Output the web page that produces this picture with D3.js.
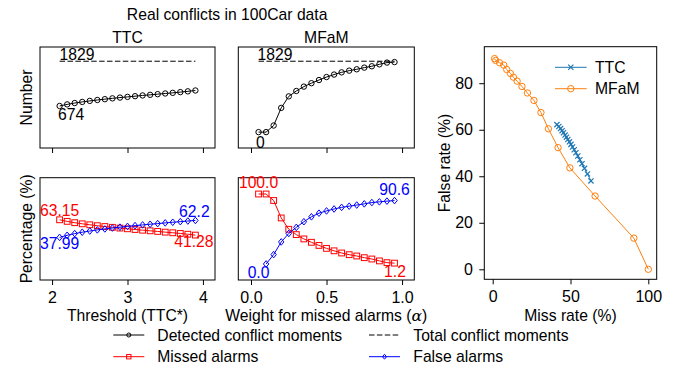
<!DOCTYPE html>
<html><head><meta charset="utf-8">
<script src="https://cdn.jsdelivr.net/npm/d3@7"></script>
<style>
body{margin:0;background:#fff}
svg{display:block}
text{font-family:"Liberation Sans",Arial,Helvetica,sans-serif}
</style></head>
<body><svg id="c" width="675" height="369"></svg>
<script>
// ---------------- data ----------------
const thresholds = [2.1,2.2,2.3,2.4,2.5,2.6,2.7,2.8,2.9,3.0,3.1,3.2,3.3,3.4,3.5,3.6,3.7,3.8,3.9];
const alphas = [0.05,0.10,0.15,0.20,0.25,0.30,0.35,0.40,0.45,0.50,0.55,0.60,0.65,0.70,0.75,0.80,0.85,0.90,0.95];
const totalConflicts = 1829;

const ttcDetected = [674,715,750,779,805,829,850,871,891,909,927,946,962,979,997,1013,1032,1052,1074];
const ttcMissed   = [63.15,60.9,59.0,57.4,56.0,54.7,53.5,52.4,51.3,50.3,49.3,48.3,47.4,46.5,45.5,44.6,43.6,42.5,41.28];
const ttcFalse    = [37.99,41.0,43.4,45.4,47.1,48.7,50.1,51.4,52.6,53.7,54.8,55.8,56.8,57.7,58.7,59.6,60.5,61.4,62.2];

const mfamDetected = [0,0,170,625,922,1061,1174,1262,1344,1421,1485,1542,1586,1621,1664,1699,1749,1794,1807];
const mfamMissed   = [100.0,100.0,90.7,65.8,49.6,42.0,35.8,31.0,26.5,22.3,18.8,15.7,13.3,11.4,9.0,7.1,4.4,1.9,1.2];
const mfamFalse    = [null,0.0,13.4,31.5,43.6,52.3,60.4,67.4,72.6,75.8,78.6,80.9,82.6,84.2,85.9,87.8,88.8,89.8,90.6];

const ttcTicks = [2,3,4];
const alphaTicks = [0,0.5,1];
const missTicks = [0,50,100];
const falseTicks = [0,20,40,60,80];
const alphaTickLabels = ["0.0","0.5","1.0"];

// ---------------- layout ----------------
const FS = 15.7, TFS = 16;
const svg = d3.select("#c");
const P = {
  ttcN:  {x0:40,    x1:215,   y0:47,   y1:148},
  mfN:   {x0:238.3, x1:414.3, y0:47,   y1:148},
  ttcP:  {x0:40,    x1:215,   y0:177.7,y1:280},
  mfP:   {x0:238.3, x1:414.3, y0:177.7,y1:280},
  rate:  {x0:484.3, x1:656.7, y0:46.7, y1:279.3}
};
const xT = d3.scaleLinear().domain([1.84,4.16]).range([P.ttcN.x0,P.ttcN.x1]);
const xA = d3.scaleLinear().domain([-0.084,1.081]).range([P.mfN.x0,P.mfN.x1]);
const yN = d3.scaleLinear().domain([-410,2196]).range([P.ttcN.y1,P.ttcN.y0]);
const yP = d3.scaleLinear().domain([-22.9,123.3]).range([P.ttcP.y1,P.ttcP.y0]);
const xR = d3.scaleLinear().domain([-5.4,105.4]).range([P.rate.x0,P.rate.x1]);
const yR = d3.scaleLinear().domain([-4.3,95.7]).range([P.rate.y1,P.rate.y0]);

function frame(p){
  svg.append("rect").attr("x",p.x0).attr("y",p.y0).attr("width",p.x1-p.x0).attr("height",p.y1-p.y0)
    .attr("fill","none").attr("stroke","#000").attr("stroke-width",1);
}
function styleAxis(g){
  g.select(".domain").remove();
  g.attr("font-size",TFS).attr("font-family",null);
  g.selectAll("line").attr("stroke","#000");
  g.selectAll("text").attr("fill","#000");
}
function bottomAxis(p, scale, ticks, labels){
  const ax = d3.axisBottom(scale).tickValues(ticks).tickSize(5).tickSizeOuter(0).tickPadding(6.8)
    .tickFormat((d,i)=> labels ? labels[i] : "");
  const g = svg.append("g").attr("transform",`translate(0,${p.y1})`).call(ax);
  styleAxis(g);
  return g;
}

Object.entries(P).forEach(([k,p])=>{
  svg.append("clipPath").attr("id","clip-"+k).append("rect")
    .attr("x",p.x0).attr("y",p.y0).attr("width",p.x1-p.x0).attr("height",p.y1-p.y0);
});

function series(key, xs, ys, sc, color, marker, dashed){
  const g = svg.append("g").attr("clip-path",`url(#clip-${key})`);
  const pts = xs.map((x,i)=>({x, y: ys[i]}));
  const line = d3.line().defined(d=>d.y!==null).x(d=>sc.x(d.x)).y(d=>sc.y(d.y));
  g.append("path").attr("d",line(pts)).attr("fill","none").attr("stroke",color).attr("stroke-width",1)
    .attr("stroke-dasharray",dashed?"5.5,2.4":null);
  if(marker){
    pts.filter(d=>d.y!==null).forEach(d=>drawMarker(g, marker, sc.x(d.x), sc.y(d.y), color, 1));
  }
  return g;
}
function drawMarker(g, m, cx, cy, color, s){
  if(m==="o"){
    g.append("circle").attr("cx",cx).attr("cy",cy).attr("r",2.7*s).attr("fill","none").attr("stroke",color).attr("stroke-width",1);
  } else if(m==="s"){
    const h=2.9*s;
    g.append("rect").attr("x",cx-h).attr("y",cy-h).attr("width",2*h).attr("height",2*h).attr("fill","none").attr("stroke",color).attr("stroke-width",1);
  } else if(m==="D"){
    const a=2.7*s,b=3.3*s;
    g.append("path").attr("d",`M${cx},${cy-b}L${cx+a},${cy}L${cx},${cy+b}L${cx-a},${cy}Z`).attr("fill","none").attr("stroke",color).attr("stroke-width",1);
  } else if(m==="x"){
    const h=2.6*s;
    g.append("path").attr("d",`M${cx-h},${cy-h}L${cx+h},${cy+h}M${cx-h},${cy+h}L${cx+h},${cy-h}`).attr("stroke",color).attr("stroke-width",1.2);
  } else if(m==="O"){
    g.append("circle").attr("cx",cx).attr("cy",cy).attr("r",3.2*s).attr("fill","none").attr("stroke",color).attr("stroke-width",1);
  }
}
function label(txt, x, y, anchor, color){
  return svg.append("text").attr("x",x).attr("y",y).attr("text-anchor",anchor)
    .attr("font-size",FS).attr("fill",color||"#000").text(txt);
}
function vlabel(txt, x, yc){
  svg.append("text").attr("transform",`translate(${x},${yc}) rotate(-90)`).attr("text-anchor","middle")
    .attr("font-size",FS).attr("fill","#000").text(txt);
}

// ---------- titles ----------
label("Real conflicts in 100Car data", (P.ttcN.x0+P.mfN.x1)/2, 19.5, "middle");
label("TTC", (P.ttcN.x0+P.ttcN.x1)/2, 42.7, "middle");
label("MFaM", (P.mfN.x0+P.mfN.x1)/2, 42.7, "middle");

// ---------- panel 1: TTC number ----------
frame(P.ttcN);
bottomAxis(P.ttcN, xT, ttcTicks, null);
series("ttcN", [thresholds[0], thresholds[thresholds.length-1]], [totalConflicts,totalConflicts], {x:xT,y:yN}, "#000", null, true);
series("ttcN", thresholds, ttcDetected, {x:xT,y:yN}, "#000", "o");
label(String(totalConflicts), xT(thresholds[0]), yN(totalConflicts)-1.7, "start");
label(String(ttcDetected[0]), xT(thresholds[0])-1.5, yN(ttcDetected[0])+13.8, "start");

// ---------- panel 2: MFaM number ----------
frame(P.mfN);
bottomAxis(P.mfN, xA, alphaTicks, null);
series("mfN", [alphas[0], alphas[alphas.length-1]], [totalConflicts,totalConflicts], {x:xA,y:yN}, "#000", null, true);
series("mfN", alphas, mfamDetected, {x:xA,y:yN}, "#000", "o");
label(String(totalConflicts), xA(alphas[0])-1, yN(totalConflicts)-1.7, "start");
label(String(mfamDetected[0]), xA(alphas[0])-2.5, yN(mfamDetected[0])+16, "start");

// ---------- panel 3: TTC percentages ----------
frame(P.ttcP);
bottomAxis(P.ttcP, xT, ttcTicks, ttcTicks.map(String));
series("ttcP", thresholds, ttcMissed, {x:xT,y:yP}, "#ff0000", "s");
series("ttcP", thresholds, ttcFalse, {x:xT,y:yP}, "#0000ff", "D");
const nT = thresholds.length-1;
label("63.15", xT(thresholds[0]), yP(ttcMissed[0])-3.4, "middle", "#ff0000");
label("37.99", xT(thresholds[0]), yP(ttcFalse[0])+11.8, "middle", "#0000ff");
label("62.2", xT(thresholds[nT])-1, yP(ttcFalse[nT])-3.4, "middle", "#0000ff");
label("41.28", xT(thresholds[nT])-1.5, yP(ttcMissed[nT])+12.4, "middle", "#ff0000");

// ---------- panel 4: MFaM percentages ----------
frame(P.mfP);
bottomAxis(P.mfP, xA, alphaTicks, alphaTickLabels);
series("mfP", alphas, mfamMissed, {x:xA,y:yP}, "#ff0000", "s");
series("mfP", alphas, mfamFalse, {x:xA,y:yP}, "#0000ff", "D");
const nA = alphas.length-1;
label("100.0", xA(alphas[0]), yP(mfamMissed[0])-5.7, "middle", "#ff0000");
label("0.0", xA(alphas[0]), yP(0)+14.3, "middle", "#0000ff");
label("90.6", xA(alphas[nA]), yP(mfamFalse[nA])-5.6, "middle", "#0000ff");
label("1.2", xA(alphas[nA])+0.5, yP(mfamMissed[nA])+14, "middle", "#ff0000");

// axis labels
vlabel("Number", 31.5, (P.ttcN.y0+P.ttcN.y1)/2);
vlabel("Percentage (%)", 31.5, (P.ttcP.y0+P.ttcP.y1)/2);
label("Threshold (TTC*)", (P.ttcP.x0+P.ttcP.x1)/2, 321, "middle");
{
  const wl = label("", (P.mfP.x0+P.mfP.x1)/2, 321, "middle");
  wl.append("tspan").text("Weight for missed alarms (");
  wl.append("tspan").attr("font-family","'DejaVu Serif',serif").attr("font-style","italic").text("α");
  wl.append("tspan").text(")");
}

// ---------- panel 5: false vs miss ----------
frame(P.rate);
bottomAxis(P.rate, xR, missTicks, missTicks.map(String));
{
  const ax = d3.axisLeft(yR).tickValues(falseTicks).tickSize(5).tickSizeOuter(0).tickPadding(6.3).tickFormat(d=>String(d));
  const g = svg.append("g").attr("transform",`translate(${P.rate.x0},0)`).call(ax);
  styleAxis(g);
}
{
  const g = svg.append("g").attr("clip-path","url(#clip-rate)");
  const line = d3.line().defined(d=>d[1]!==null).x(d=>xR(d[0])).y(d=>yR(d[1]));
  const mfPts = mfamMissed.map((m,i)=>[m, mfamFalse[i]]);
  g.append("path").attr("d",line(mfPts)).attr("fill","none").attr("stroke","#ff7f0e").attr("stroke-width",1);
  mfPts.filter(p=>p[1]!==null).forEach(p=>drawMarker(g,"O",xR(p[0]),yR(p[1]),"#ff7f0e",1));
  const ttcPts = ttcMissed.map((m,i)=>[m, ttcFalse[i]]);
  g.append("path").attr("d",line(ttcPts)).attr("fill","none").attr("stroke","#1f77b4").attr("stroke-width",1);
  ttcPts.forEach(p=>drawMarker(g,"x",xR(p[0]),yR(p[1]),"#1f77b4",1));
}
label("Miss rate (%)", (P.rate.x0+P.rate.x1)/2, 321, "middle");
vlabel("False rate (%)", 449.5, (P.rate.y0+P.rate.y1)/2);
{
  const lg = svg.append("g");
  lg.append("line").attr("x1",555).attr("x2",586.7).attr("y1",67.3).attr("y2",67.3).attr("stroke","#1f77b4").attr("stroke-width",1);
  drawMarker(lg,"x",570.8,67.3,"#1f77b4",1);
  label("TTC",595,73,"start");
  lg.append("line").attr("x1",555).attr("x2",586.7).attr("y1",88.7).attr("y2",88.7).attr("stroke","#ff7f0e").attr("stroke-width",1);
  drawMarker(lg,"O",570.8,88.7,"#ff7f0e",1);
  label("MFaM",595,94.4,"start");
}

// ---------- bottom legend ----------
{
  const lg = svg.append("g");
  const rows = [
    {x1:113.3,x2:144.3,y:335,color:"#000",m:"o",dash:null,txt:"Detected conflict moments",tx:157.3},
    {x1:369,x2:400,y:335,color:"#000",m:null,dash:"5.5,2.4",txt:"Total conflict moments",tx:413.3},
    {x1:113.3,x2:144.3,y:356.7,color:"#ff0000",m:"s",dash:null,txt:"Missed alarms",tx:157.3},
    {x1:369,x2:400,y:356.7,color:"#0000ff",m:"D",dash:null,txt:"False alarms",tx:413.3}
  ];
  rows.forEach(r=>{
    lg.append("line").attr("x1",r.x1).attr("x2",r.x2).attr("y1",r.y).attr("y2",r.y)
      .attr("stroke",r.color).attr("stroke-width",1).attr("stroke-dasharray",r.dash);
    if(r.m) drawMarker(lg,r.m,(r.x1+r.x2)/2,r.y,r.color,0.75);
    label(r.txt, r.tx, r.y+5.5, "start");
  });
}
</script>
</body></html>
